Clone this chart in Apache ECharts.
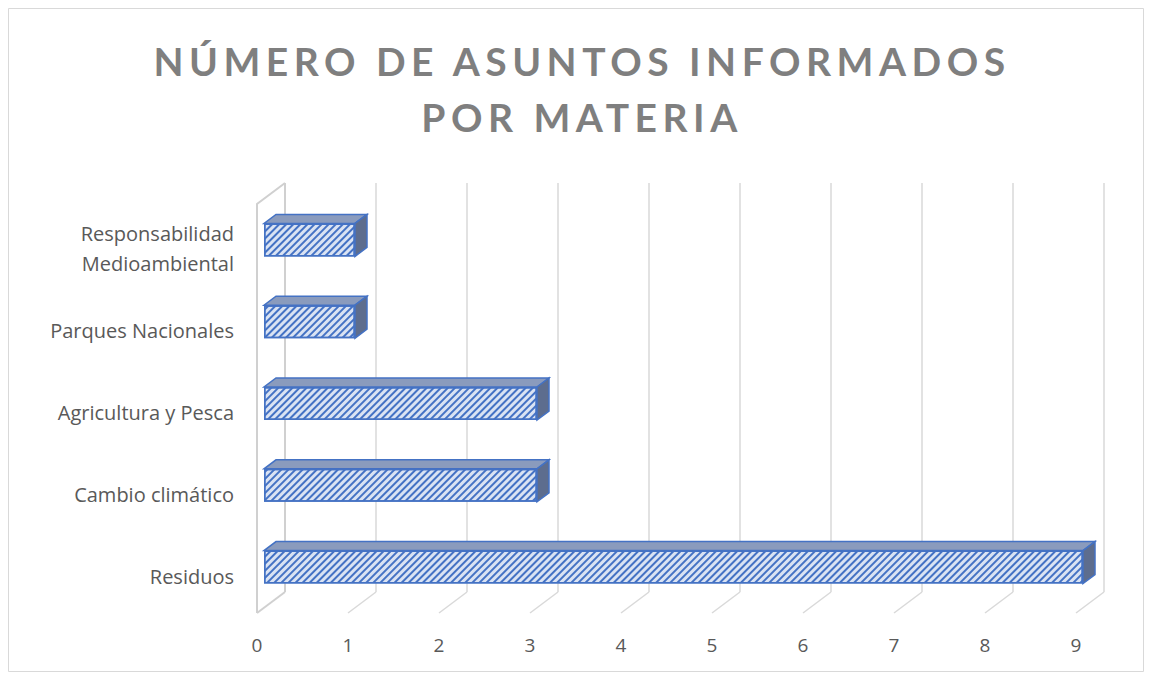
<!DOCTYPE html>
<html>
<head>
<meta charset="utf-8">
<script src="https://cdn.jsdelivr.net/npm/echarts@6/dist/echarts.min.js"></script>
<style>
  html, body { margin: 0; padding: 0; background: #fff; }
  #chart { width: 1153px; height: 682px; }
</style>
</head>
<body>
<div id="chart"></div>
<script>
// data, bottom to top
const titleLines = ['NÚMERO DE ASUNTOS INFORMADOS', 'POR MATERIA'];
const categories = ['Residuos', 'Cambio climático', 'Agricultura y Pesca', 'Parques Nacionales', 'Responsabilidad Medioambiental'];
const values = [9, 3, 3, 1, 1];
const xTicks = [0, 1, 2, 3, 4, 5, 6, 7, 8, 9];

// fake 3d offsets (px)
const BAR_H = 33;
const BAR_DX = 12, BAR_DY = -9;   // bar depth
const BACK_DX = 21, BACK_DY = -16; // bar plane -> back wall
const FRONT_DX = -7, FRONT_DY = 5; // bar plane -> front floor edge

const blue = '#4472c4';
const wallGrey = '#d0d0d0';
const textGrey = '#595959';
const font = 'Open Sans';

const dom = document.getElementById('chart');
const chart = echarts.init(dom, null, { renderer: 'svg' });

function renderWalls(params, api) {
  const cs = params.coordSys;
  const k = api.value(0);
  const x = api.coord([k, 0])[0];
  const top = cs.y, bottom = cs.y + cs.height;
  const lineStyle = { stroke: k === 0 ? wallGrey : '#d9d9d9', lineWidth: k === 0 ? 2 : 1.5 };
  const children = [
    // back wall gridline
    { type: 'line', shape: { x1: x + BACK_DX, y1: top + BACK_DY, x2: x + BACK_DX, y2: bottom + BACK_DY }, style: lineStyle },
    // floor line
    { type: 'line', shape: { x1: x + BACK_DX, y1: bottom + BACK_DY, x2: x + FRONT_DX, y2: bottom + FRONT_DY }, style: lineStyle }
  ];
  if (k === 0) {
    // left side wall
    children.push({
      type: 'polyline',
      shape: { points: [[x + BACK_DX, top + BACK_DY], [x + FRONT_DX, top + BACK_DY + 21], [x + FRONT_DX, bottom + FRONT_DY]] },
      style: { stroke: wallGrey, lineWidth: 2, fill: null }
    });
  }
  return { type: 'group', children: children };
}

function renderBar3d(params, api) {
  const v = api.value(0);
  const idx = api.value(1);
  const p0 = api.coord([0, idx]);
  const p1 = api.coord([v, idx]);
  const yT = p0[1] - BAR_H / 2, yB = p0[1] + BAR_H / 2;
  const x0 = p0[0], x1 = p1[0];
  return {
    type: 'group',
    children: [
      {
        type: 'polygon',
        shape: { points: [[x0, yT], [x1, yT], [x1 + BAR_DX, yT + BAR_DY], [x0 + BAR_DX, yT + BAR_DY]] },
        style: { fill: '#8a9bbd', stroke: blue, lineWidth: 1.5 }
      },
      {
        type: 'polygon',
        shape: { points: [[x1, yT], [x1 + BAR_DX, yT + BAR_DY], [x1 + BAR_DX, yB + BAR_DY], [x1, yB]] },
        style: { fill: '#5d6d8e', stroke: blue, lineWidth: 1.5 }
      }
    ]
  };
}

const titleStyle = {
  fontFamily: 'Lato',
  fontWeight: 'bold',
  fontSize: 39,
  fill: '#7f7f7f',
  align: 'center',
  verticalAlign: 'middle'
};

const option = {
  animation: false,
  graphic: [
    {
      type: 'rect',
      shape: { x: 8.5, y: 8.5, width: 1135, height: 663 },
      style: { fill: null, stroke: '#d9d9d9', lineWidth: 1 },
      silent: true
    },
    { type: 'text', x: 582, y: 61, style: Object.assign({ text: titleLines[0] }, titleStyle) },
    { type: 'text', x: 582, y: 117, style: Object.assign({ text: titleLines[1] }, titleStyle) }
  ],
  grid: [
    { left: 264, right: 70, top: 199, bottom: 74, outerBoundsMode: 'none' },
    // front plane, only for the category labels
    { left: 264, right: 70, top: 208, bottom: 65, outerBoundsMode: 'none' }
  ],
  xAxis: [
    {
      type: 'value',
      min: 0,
      max: 9,
      interval: 1,
      axisLine: { show: false },
      axisTick: { show: false },
      splitLine: { show: false },
      axisLabel: {
        margin: 27,
        padding: [0, 14, 0, 0],
        fontFamily: font,
        fontSize: 19,
        color: textGrey
      }
    },
    { type: 'value', gridIndex: 1, min: 0, max: 9, show: false }
  ],
  yAxis: [
    {
      type: 'category',
      data: categories,
      axisLine: { show: false },
      axisTick: { show: false },
      axisLabel: { show: false }
    },
    {
      type: 'category',
      gridIndex: 1,
      data: categories,
      axisLine: { show: false },
      axisTick: { show: false },
      axisLabel: {
        margin: 30,
        fontFamily: font,
        fontSize: 20,
        lineHeight: 30,
        color: textGrey,
        formatter: function (v) { return v.length > 20 ? v.replace(' ', '\n') : v; }
      }
    }
  ],
  series: [
    {
      type: 'custom',
      renderItem: renderWalls,
      data: xTicks.map(function (t) { return [t]; }),
      encode: { x: 0 },
      silent: true,
      z: 1
    },
    {
      type: 'custom',
      renderItem: renderBar3d,
      data: values.map(function (v, i) { return [v, i]; }),
      encode: { x: 0, y: 1 },
      silent: true,
      z: 3
    },
    {
      type: 'bar',
      data: values,
      barWidth: BAR_H,
      z: 4,
      itemStyle: {
        color: '#dae3f3',
        borderColor: blue,
        borderWidth: 1.5,
        decal: {
          symbol: 'rect',
          symbolSize: 1,
          color: blue,
          dashArrayX: [1, 0],
          dashArrayY: [2, 3],
          rotation: -Math.PI / 4
        }
      }
    }
  ]
};

chart.setOption(option);

// Excel-style wide tracking on the title
dom.querySelectorAll('text').forEach(function (t) {
  if (titleLines.indexOf(t.textContent) >= 0) {
    t.setAttribute('letter-spacing', '5.5');
  }
});
</script>
</body>
</html>
